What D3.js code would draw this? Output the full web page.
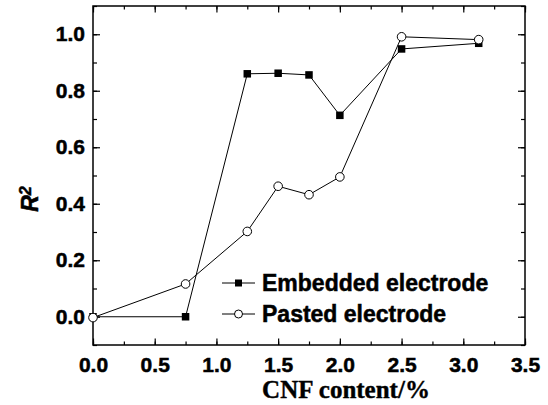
<!DOCTYPE html>
<html lang="en">
<head>
    <meta charset="UTF-8">
    <title>R2 vs CNF content</title>
    <script src="https://cdn.jsdelivr.net/npm/d3@7/dist/d3.min.js"></script>
    <style>
        body { margin: 0; background: #fff; }
    </style>
</head>
<body>
<script type="text/javascript">
    var width = 548;
    var height = 405;

    // data
    var cnf = [0, 0.75, 1.25, 1.5, 1.75, 2.0, 2.5, 3.125];
    var embedded = [0.0, 0.0, 0.86, 0.862, 0.856, 0.713, 0.948, 0.968];
    var pasted = [-0.003, 0.116, 0.302, 0.462, 0.432, 0.495, 0.991, 0.981];
    var xTicks = [0, 0.5, 1.0, 1.5, 2.0, 2.5, 3.0, 3.5];
    var yTicks = [0, 0.2, 0.4, 0.6, 0.8, 1.0];
    var seriesNames = ['Embedded electrode', 'Pasted electrode'];

    var margin = {top: 6, right: 23, bottom: 60, left: 93};
    var w = width - margin.left - margin.right;
    var h = height - margin.top - margin.bottom;

    var svg = d3.select('body').append('svg')
            .attr('width', width)
            .attr('height', height);
    var g = svg.append('g')
            .attr('transform', 'translate(' + margin.left + ',' + margin.top + ')');

    var x = d3.scaleLinear().domain([0, 3.5]).range([0, w]);
    var y = d3.scaleLinear().domain([-0.1, 1.1]).range([h, 0]);

    var xMinor = d3.range(0, 3.51, 0.25);
    var yMinor = d3.range(-0.1, 1.11, 0.1);

    var fmt = d3.format('.1f');
    var tickFont = '"Liberation Sans", Arial, sans-serif';

    function styleAxis(sel) {
        sel.select('.domain').remove();
        sel.selectAll('line').attr('stroke', '#000').attr('stroke-width', 1.2);
        sel.selectAll('text')
                .attr('font-family', tickFont)
                .attr('font-weight', 'bold')
                .attr('font-size', 21)
                .attr('fill', '#000')
                .attr('stroke', '#000')
                .attr('stroke-width', 0.5);
    }

    // minor ticks
    g.append('g').attr('transform', 'translate(0,' + h + ')')
            .call(d3.axisBottom(x).tickValues(xMinor).tickSize(-3.5).tickFormat(''))
            .call(styleAxis);
    g.append('g')
            .call(d3.axisTop(x).tickValues(xMinor).tickSize(-3.5).tickFormat(''))
            .call(styleAxis);
    g.append('g')
            .call(d3.axisLeft(y).tickValues(yMinor).tickSize(-4).tickFormat(''))
            .call(styleAxis);
    g.append('g').attr('transform', 'translate(' + w + ',0)')
            .call(d3.axisRight(y).tickValues(yMinor).tickSize(-4).tickFormat(''))
            .call(styleAxis);

    // major ticks
    g.append('g').attr('transform', 'translate(0,' + h + ')')
            .call(d3.axisBottom(x).tickValues(xTicks).tickSize(-6.5).tickPadding(12).tickFormat(fmt))
            .call(styleAxis);
    g.append('g')
            .call(d3.axisTop(x).tickValues(xTicks).tickSize(-6.5).tickFormat(''))
            .call(styleAxis);
    g.append('g')
            .call(d3.axisLeft(y).tickValues(yTicks).tickSize(-7).tickPadding(8).tickFormat(fmt))
            .call(styleAxis);
    g.append('g').attr('transform', 'translate(' + w + ',0)')
            .call(d3.axisRight(y).tickValues(yTicks).tickSize(-7).tickFormat(''))
            .call(styleAxis);

    // frame
    g.append('rect')
            .attr('width', w)
            .attr('height', h)
            .attr('fill', 'none')
            .attr('stroke', '#000')
            .attr('stroke-width', 1.5);

    var line = d3.line()
            .x(function (d) { return x(d[0]); })
            .y(function (d) { return y(d[1]); });

    var embData = cnf.map(function (c, i) { return [c, embedded[i]]; });
    var pasData = cnf.map(function (c, i) { return [c, pasted[i]]; });

    g.append('path')
            .attr('d', line(embData))
            .attr('fill', 'none')
            .attr('stroke', '#000')
            .attr('stroke-width', 1);
    g.append('path')
            .attr('d', line(pasData))
            .attr('fill', 'none')
            .attr('stroke', '#000')
            .attr('stroke-width', 1);

    var sq = 7.5;
    g.selectAll('.sq')
            .data(embData)
            .enter()
            .append('rect')
            .attr('x', function (d) { return x(d[0]) - sq / 2; })
            .attr('y', function (d) { return y(d[1]) - sq / 2; })
            .attr('width', sq)
            .attr('height', sq)
            .attr('fill', '#000');
    g.selectAll('.circ')
            .data(pasData)
            .enter()
            .append('circle')
            .attr('cx', function (d) { return x(d[0]); })
            .attr('cy', function (d) { return y(d[1]); })
            .attr('r', 4.3)
            .attr('fill', '#fff')
            .attr('stroke', '#000')
            .attr('stroke-width', 1);

    // legend
    var legend = svg.append('g');
    var rows = [283, 314];
    rows.forEach(function (ly, i) {
        legend.append('line')
                .attr('x1', 222).attr('x2', 255)
                .attr('y1', ly).attr('y2', ly)
                .attr('stroke', '#000').attr('stroke-width', 1);
        if (i === 0) {
            legend.append('rect')
                    .attr('x', 238.5 - 3.5).attr('y', ly - 3.5)
                    .attr('width', 7).attr('height', 7)
                    .attr('fill', '#000');
        } else {
            legend.append('circle')
                    .attr('cx', 238.5).attr('cy', ly).attr('r', 4)
                    .attr('fill', '#fff').attr('stroke', '#000');
        }
        legend.append('text')
                .attr('x', 262)
                .attr('y', ly)
                .attr('dy', '0.36em')
                .attr('font-family', tickFont)
                .attr('font-weight', 'bold')
                .attr('font-size', 23)
                .attr('stroke', '#000')
                .attr('stroke-width', 0.5)
                .text(seriesNames[i]);
    });

    // axis titles
    svg.append('text')
            .attr('x', 346)
            .attr('y', 398)
            .attr('text-anchor', 'middle')
            .attr('font-family', '"Liberation Serif", "Times New Roman", serif')
            .attr('font-weight', 'bold')
            .attr('font-size', 25)
            .attr('stroke', '#000')
            .attr('stroke-width', 0.4)
            .text('CNF content/%');

    var yt = svg.append('text')
            .attr('transform', 'translate(38,199) rotate(-90)')
            .attr('text-anchor', 'middle')
            .attr('font-family', tickFont)
            .attr('font-weight', 'bold')
            .attr('font-style', 'italic')
            .attr('font-size', 23)
            .attr('stroke', '#000')
            .attr('stroke-width', 0.5);
    yt.append('tspan').text('R');
    yt.append('tspan')
            .attr('dy', '-0.42em')
            .attr('font-size', 16)
            .text('2');
</script>
</body>
</html>
